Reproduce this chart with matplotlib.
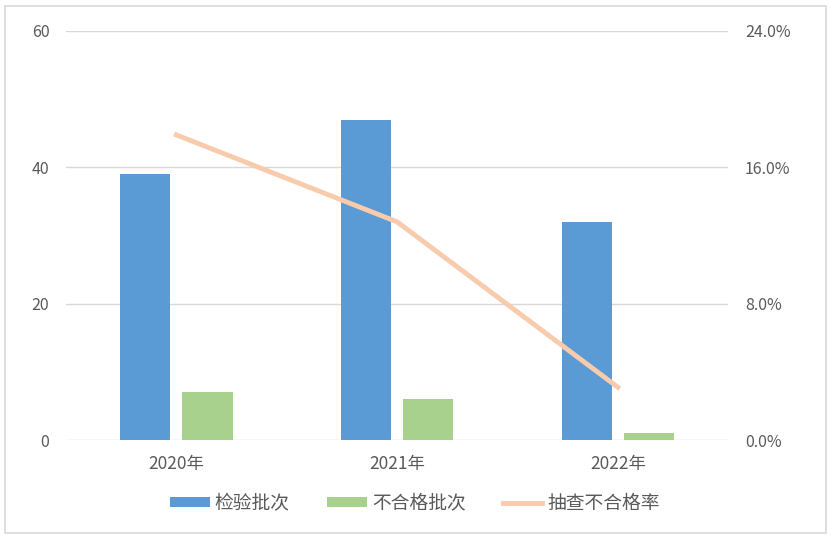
import numpy as np
import matplotlib.pyplot as plt
from matplotlib.patches import Rectangle
from matplotlib.ticker import FuncFormatter

plt.rcParams['font.family'] = ['Noto Sans CJK SC', 'DejaVu Sans']

years = ['2020年', '2021年', '2022年']
jianyan = [39, 47, 32]      # 检验批次
buhege = [7, 6, 1]          # 不合格批次
lv = [17.9, 12.8, 3.1]      # 抽查不合格率 (%)

fig = plt.figure(figsize=(8.32, 5.42), dpi=100)
fig.patches.append(Rectangle((0.006, 0.017), 0.987, 0.972, transform=fig.transFigure,
                             fill=False, edgecolor='#d9d9d9', linewidth=1.2))
ax = fig.add_axes([0.0793, 0.188, 0.796, 0.755])
ax2 = ax.twinx()

x = np.arange(len(years))
w = 0.228
ax.bar(x - 0.141, jianyan, w, color='#5b9bd5', label='检验批次', zorder=3)
ax.bar(x + 0.141, buhege, w, color='#a9d18e', label='不合格批次', zorder=3)
ax2.plot(x, lv, color='#f8cbad', linewidth=3.5, label='抽查不合格率', zorder=4)

ax.set_xlim(-0.5, 2.5)
ax.set_ylim(0, 60)
ax.set_yticks([0, 20, 40, 60])
ax2.set_ylim(0, 24)
ax2.set_yticks([0, 8, 16, 24])
ax2.yaxis.set_major_formatter(FuncFormatter(lambda v, p: f'{v:.1f}%'))

ax.grid(axis='y', color='#d9d9d9', linewidth=1, zorder=0)
for a in (ax, ax2):
    for s in a.spines.values():
        s.set_visible(False)
    a.tick_params(length=0, labelsize=11.5, colors='#595959')
ax.tick_params(axis='y', pad=12)
ax2.tick_params(axis='y', pad=12)
ax.set_xticks(x)
ax.set_xticklabels(years)
ax.tick_params(axis='x', labelsize=12.5, pad=11)

h1, l1 = ax.get_legend_handles_labels()
h2, l2 = ax2.get_legend_handles_labels()
leg = fig.legend(h1 + h2, l1 + l2, loc='center', bbox_to_anchor=(0.499, 0.071), ncol=3,
                 frameon=False, fontsize=13.5, handlelength=2.1, handleheight=0.45,
                 columnspacing=2.0, handletextpad=0.27)
for t in leg.get_texts():
    t.set_color('#595959')

fig.savefig('out.png', dpi=100)
